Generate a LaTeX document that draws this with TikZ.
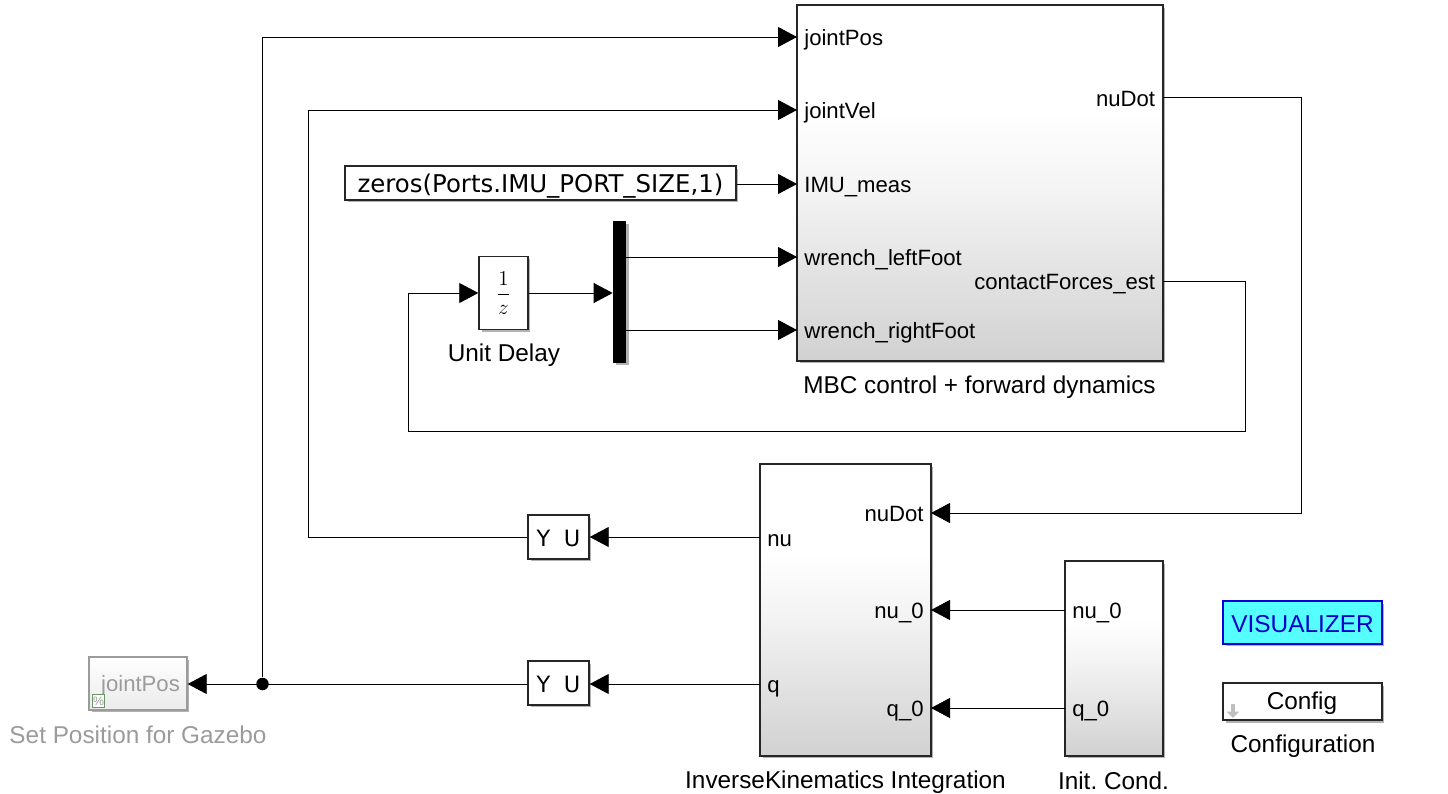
\documentclass[tikz,border=0pt]{standalone}
\usepackage{fontspec}
\setmainfont{Liberation Sans}
\newfontfamily\blockfont{DejaVu Sans}
\usetikzlibrary{arrows.meta,positioning,shadows}
\pgfdeclareverticalshading{blockgrad}{100bp}{color(0bp)=(black!18); color(25bp)=(black!18);
  color(50bp)=(black!4); color(60bp)=(white); color(100bp)=(white)}
\definecolor{vislblue}{RGB}{0,0,205}
\definecolor{fadegray}{RGB}{155,155,155}
\definecolor{viscyan}{RGB}{85,255,255}
\begin{document}
\begin{tikzpicture}[x=0.02cm,y=-0.02cm,
    wire/.style={line width=0.5pt,-{Triangle[length=0.38cm,width=0.4cm]}},
    shdw/.style={drop shadow={shadow xshift=0.05cm,shadow yshift=-0.05cm,opacity=0.3,fill=black}},
    block/.style={rectangle,draw=black!85,line width=0.8pt,inner sep=0pt,shdw},
    sub/.style={block,shading=blockgrad},
    port/.style={inner sep=0pt,text height=0.42cm,text depth=0.07cm},
    lbl/.style={inner sep=0pt,font=\fontsize{13.85}{16}\selectfont},
    vtx/.style={circle,fill=black,inner sep=0pt,minimum size=0.25cm},
    every node/.style={font=\fontsize{12.6}{15}\selectfont}]
  \useasboundingbox (0,0) rectangle (1448,794);
  %-------------------------------------------------- upper part: the controller
  \node[sub,minimum width=7.32cm,minimum height=7.12cm] (ctrl) at (980,183) {};
  \node[lbl] (ctrlcap) at (979.5,387) {MBC control + forward dynamics};
  \foreach \n/\y/\t in {inPos/37/jointPos,inVel/110/jointVel,inImu/184/IMU\_meas,
                        inLeft/257/wrench\_leftFoot,inRight/330/wrench\_rightFoot}{
    \coordinate (\n) at (797,\y);
    \node[port,anchor=west,right=0.14cm of \n] (l\n) {\t};
  }
  \coordinate (outNuDot) at (1163,97);
  \coordinate (outForces) at (1163,281);
  \node[port,anchor=east,left=0.15cm of outNuDot,yshift=-0.02cm] (loutNuDot) {nuDot};
  \node[port,anchor=east,left=0.15cm of outForces] (loutForces) {contactForces\_est};
  \node[block,fill=white,minimum width=7.82cm,minimum height=0.68cm,text height=0.48cm,text depth=0.08cm,
        font=\blockfont\fontsize{13.9}{16}\selectfont] (imuzero) at (540.5,183)
       {zeros(Ports.IMU\_PORT\_SIZE,1)};
  \node[block,fill=white,minimum width=0.98cm,minimum height=1.46cm,
        font=\fontsize{13}{15}\selectfont] (delay) at (503.5,293) {$\displaystyle\frac{1}{z}$};
  \node[lbl] (delaycap) at (504,355) {Unit Delay};
  \node[rectangle,fill=black,inner sep=0pt,minimum width=0.26cm,minimum height=2.84cm,shdw]
       (demux) at (619.5,292) {};
  \draw[wire] (imuzero.east |- inImu) -- (inImu);
  \draw[wire] (demux.east |- inLeft) -- (inLeft);
  \draw[wire] (demux.east |- inRight) -- (inRight);
  \draw[wire] (delay) -- (demux.west |- delay);
  %-------------------------------------------------- lower part: the integration
  \node[sub,minimum width=3.42cm,minimum height=5.84cm] (ik) at (845.5,610) {};
  \node[lbl] (ikcap) at (845.5,782) {InverseKinematics Integration};
  \node[sub,minimum width=1.96cm,minimum height=3.9cm] (init) at (1114,658.5) {};
  \node[lbl] (initcap) at (1113.5,781) {Init.\ Cond.};
  \coordinate (ikNu) at (760,537);
  \coordinate (ikQ) at (760,684);
  \coordinate (ikDot) at (931,513);
  \coordinate (ikNuZero) at (931,610);
  \coordinate (ikQZero) at (931,708);
  \coordinate (initNu) at (1065,610);
  \coordinate (initQ) at (1065,708);
  \node[port,anchor=west,right=0.14cm of ikNu,yshift=-0.02cm] (lnu) {nu};
  \node[port,anchor=west,right=0.14cm of ikQ] (lq) {q};
  \node[port,anchor=east,left=0.14cm of ikDot] (ldot) {nuDot};
  \node[port,anchor=east,left=0.14cm of ikNuZero] (lnuzero) {nu\_0};
  \node[port,anchor=east,left=0.14cm of ikQZero] (lqzero) {q\_0};
  \node[port,anchor=west,right=0.14cm of initNu] (linitnu) {nu\_0};
  \node[port,anchor=west,right=0.14cm of initQ] (linitq) {q\_0};
  \node[block,fill=white,minimum width=1.22cm,minimum height=0.88cm,text height=0.44cm,text depth=0.08cm,
        font=\blockfont\fontsize{12.8}{15}\selectfont] (convnu) at (558.5,537) {Y\hspace{0.6em}U};
  \node[block,fill=white,minimum width=1.22cm,minimum height=0.88cm,text height=0.44cm,text depth=0.08cm,
        font=\blockfont\fontsize{12.8}{15}\selectfont] (convq) at (558.5,683) {Y\hspace{0.6em}U};
  \node[block,draw=fadegray,top color=white,bottom color=black!8,
        minimum width=1.96cm,minimum height=1.06cm] (setpos) at (138,683.5) {};
  \node[inner sep=0pt,text=fadegray] (setposname) at (140.5,686) {jointPos};
  \node[lbl,text=fadegray] (setposcap) at (138,735) {Set Position for Gazebo};
  \node[draw=green!20!gray,fill=white,text=fadegray,inner sep=0pt,minimum size=0.25cm,
        font=\fontsize{7}{8}\selectfont] (pct) at (98.5,701) {\%};
  \node[vtx] (dot) at (262.5,684) {};
  %-------------------------------------------------- the long wires
  \draw[wire] (ikNu) -- (convnu);
  \draw[wire] (ikQ) -- (convq.east |- ikQ);
  \draw[wire] (initNu) -- (ikNuZero);
  \draw[wire] (initQ) -- (ikQZero);
  \draw[wire] (convq.west |- dot) -- (setpos.east |- dot);
  \draw[wire] (dot) |- (inPos);
  \draw[wire] (convnu) -| (308.5,110) -- (inVel);
  \draw[wire] (outNuDot) -| (1301.5,513) -- (ikDot);
  \draw[wire] (outForces) -| (1245.5,431) -| (408.5,293) -- (delay);
  %-------------------------------------------------- the two free blocks
  \node[block,draw=blue!85!black,fill=viscyan,text=vislblue,minimum width=3.18cm,minimum height=0.86cm,
        text height=0.47cm,text depth=0.08cm,font=\fontsize{13.9}{16}\selectfont] (vis) at (1302.5,622.5) {VISUALIZER};
  \node[block,fill=white,minimum width=3.18cm,minimum height=0.74cm] (config) at (1302.5,701.5) {};
  \node[lbl] (configname) at (1302,703) {Config};
  \node[lbl] (configcap) at (1303,746) {Configuration};
  \draw[black!25,line width=2pt,-{Triangle[length=0.13cm,width=0.25cm]}] (1233,704) -- (1233,718);
\end{tikzpicture}
\end{document}
